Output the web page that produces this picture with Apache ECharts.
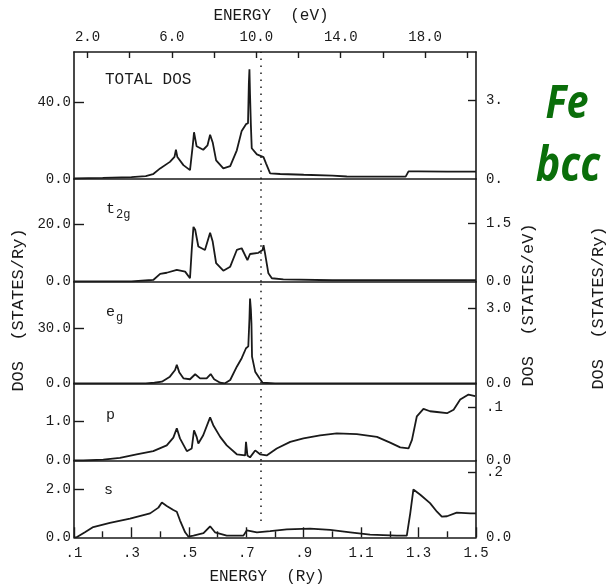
<!DOCTYPE html>
<html><head><meta charset="utf-8">
<script src="https://cdn.jsdelivr.net/npm/echarts@6/dist/echarts.min.js"></script>
<style>html,body{margin:0;padding:0;background:#fff}#c{width:607px;height:588px}</style>
</head><body><div id="c"></div>
<script>
// ---------- data (energy in Ry, DOS in states/Ry) ----------
const RY_TO_EV = 13.606;
const E_MIN = 0.1, E_MAX = 1.5;
const E_FERMI = 0.75;

const totalE = [0.10,0.20,0.30,0.35,0.375,0.40,0.434,0.450,0.455,0.460,0.481,0.504,0.510,0.514,0.518,0.527,0.550,0.565,0.574,0.583,0.595,0.620,0.644,0.667,0.684,0.699,0.706,0.709,0.711,0.713,0.716,0.719,0.723,0.737,0.760,0.769,0.783,0.818,0.90,1.00,1.05,1.20,1.255,1.265,1.30,1.40,1.50];
const totalDos = [0.3,0.6,1.0,1.5,2.5,5.5,8.9,11.5,15.2,11.4,7.2,4.6,4.2,18,24.3,17,15.2,17.5,23,19,9.7,5.5,6.7,14.9,25,28.5,29,50,57,44,28,16,15,12.8,11.4,8,2.9,2.6,2.2,1.8,1.3,1.2,1.2,4.0,4.0,3.8,3.8];

const t2gE = [0.10,0.30,0.36,0.376,0.40,0.423,0.458,0.487,0.504,0.510,0.516,0.522,0.533,0.556,0.574,0.583,0.595,0.620,0.644,0.667,0.684,0.704,0.713,0.742,0.757,0.760,0.765,0.777,0.789,0.829,1.0,1.5];
const t2gDos = [0.1,0.1,0.5,0.6,2.7,3.1,4.1,3.5,1.2,11,19,18,12.2,11,17,13.9,6.4,3.8,5.2,11,11.6,7.5,9.6,10,11,12.7,10,2.9,1.2,0.8,0.5,0.5];

const egE = [0.10,0.35,0.38,0.406,0.434,0.452,0.458,0.467,0.481,0.504,0.522,0.539,0.562,0.576,0.588,0.609,0.626,0.644,0.667,0.684,0.699,0.707,0.711,0.713,0.716,0.718,0.720,0.731,0.746,0.757,0.80,1.5];
const egDos = [0,0,0.3,0.9,3.6,7.2,10,5.8,2.7,2.2,4.9,2.7,2.7,5,2.2,0.3,0,1.8,9,13.6,19,20,35,46,40,32.6,14.5,6.3,2.7,0.3,0,0];

const pE = [0.10,0.132,0.202,0.260,0.318,0.376,0.423,0.446,0.458,0.469,0.493,0.510,0.518,0.527,0.533,0.550,0.574,0.585,0.609,0.632,0.667,0.696,0.699,0.704,0.713,0.731,0.748,0.771,0.806,0.853,0.899,0.957,1.015,1.085,1.155,1.201,1.236,1.265,1.277,1.294,1.317,1.340,1.364,1.399,1.422,1.445,1.474,1.497];
const pDos = [0,0,0.02,0.07,0.16,0.24,0.39,0.59,0.83,0.57,0.24,0.31,0.78,0.61,0.44,0.65,1.11,0.91,0.61,0.39,0.16,0.13,0.48,0.13,0.08,0.26,0.16,0.13,0.31,0.48,0.57,0.65,0.70,0.68,0.61,0.46,0.34,0.31,0.53,1.14,1.33,1.27,1.25,1.22,1.31,1.57,1.70,1.66];

const sE = [0.10,0.109,0.138,0.167,0.225,0.295,0.365,0.394,0.406,0.423,0.446,0.458,0.469,0.487,0.498,0.516,0.551,0.574,0.591,0.632,0.690,0.702,0.737,0.783,0.841,0.922,0.992,1.062,1.131,1.224,1.259,1.271,1.282,1.306,1.340,1.364,1.381,1.399,1.433,1.480,1.500];
const sDos = [0,0,0.21,0.43,0.6,0.78,1.0,1.24,1.45,1.31,1.14,1.07,0.71,0.21,0.03,0.07,0.17,0.46,0.21,0.07,0.07,0.29,0.21,0.26,0.33,0.36,0.31,0.21,0.11,0.07,0.07,1.0,2.0,1.78,1.43,1.07,0.86,0.88,1.03,1.0,1.0];

// axis ranges and tick labels
const yMaxRy = [66, 35.6, 55.1, 1.99, 3.21];
const leftTickVals = [40, 20, 30, 1, 2];
const leftTickLabels = ['40.0', '20.0', '30.0', '1.0', '2.0'];
const rightTickVals = [3, 1.5, 3, 0.1, 0.2];
const rightTickLabels = ['3.', '1.5', '3.0', '.1', '.2'];
const rightZeroLabels = ['0.', '0.0', '0.0', '0.0', '0.0'];
const fermiBottom = [0, 0, 0, 0, 0.68];
const ryMajorTicks = [0.1, 0.3, 0.5, 0.7, 0.9, 1.1, 1.3, 1.5];
const ryMinorTicks = [0.2, 0.4, 0.6, 0.8, 1.0, 1.2, 1.4];
const evTicks = [2, 4, 6, 8, 10, 12, 14, 16, 18, 20];
const evLabels = [2, 6, 10, 14, 18];

// ---------- layout ----------
const FONT = '"Liberation Mono", "DejaVu Sans Mono", monospace';
const INK = '#1a1a1a';
const gridTops = [52, 179, 281.7, 383.3, 460.5];
const gridHeights = [127, 102.7, 101.6, 77.2, 76.8];
const GL = 74, GR = 131;

const seriesE = [totalE, t2gE, egE, pE, sE];
const seriesV = [totalDos, t2gDos, egDos, pDos, sDos];

const chart = echarts.init(document.getElementById('c'), null, {renderer: 'canvas'});

const grid = [], xAxis = [], yAxis = [], series = [];
for (let i = 0; i < 5; i++) {
  grid.push({left: GL, right: GR, top: gridTops[i], height: gridHeights[i]});
  xAxis.push({
    type: 'value', gridIndex: i, position: 'bottom', min: E_MIN, max: E_MAX,
    splitLine: {show: false},
    axisLine: {show: true, onZero: false, lineStyle: {color: INK, width: 1.6}},
    axisTick: i === 4 ? {show: true, inside: true, length: 10, customValues: ryMajorTicks, lineStyle: {color: INK, width: 1.4}} : {show: false},
    axisLabel: i === 4 ? {show: true, customValues: ryMajorTicks, margin: 9, color: INK, fontFamily: FONT, fontSize: 14,
      formatter: v => v < 1 ? '.' + Math.round(v * 10) : v.toFixed(1)} : {show: false}
  });
}
// top eV axis on panel 0
xAxis.push({
  type: 'value', gridIndex: 0, position: 'top', min: E_MIN * RY_TO_EV, max: E_MAX * RY_TO_EV,
  splitLine: {show: false},
  axisLine: {show: true, onZero: false, lineStyle: {color: INK, width: 1.6}},
  axisTick: {show: true, inside: true, length: 6, customValues: evTicks, lineStyle: {color: INK, width: 1.4}},
  axisLabel: {show: true, customValues: evLabels, margin: 8, color: INK, fontFamily: FONT, fontSize: 14, formatter: v => v.toFixed(1)}
});
// minor Ry ticks on bottom panel
xAxis.push({
  type: 'value', gridIndex: 4, position: 'bottom', min: E_MIN, max: E_MAX,
  splitLine: {show: false}, axisLine: {show: false, onZero: false}, axisLabel: {show: false},
  axisTick: {show: true, inside: true, length: 6, customValues: ryMinorTicks, lineStyle: {color: INK, width: 1.4}}
});

for (let i = 0; i < 5; i++) {
  yAxis.push({
    type: 'value', gridIndex: i, position: 'left', min: 0, max: yMaxRy[i],
    splitLine: {show: false},
    axisLine: {show: true, onZero: false, lineStyle: {color: INK, width: 1.6}},
    axisTick: {show: true, inside: true, length: 10, customValues: [leftTickVals[i]], lineStyle: {color: INK, width: 1.4}},
    axisLabel: {show: true, customValues: [0, leftTickVals[i]], margin: 3, color: INK, fontFamily: FONT, fontSize: 14,
      formatter: v => v === 0 ? '0.0' : leftTickLabels[i]}
  });
}
for (let i = 0; i < 5; i++) {
  yAxis.push({
    type: 'value', gridIndex: i, position: 'right', min: 0, max: yMaxRy[i] / RY_TO_EV,
    splitLine: {show: false},
    axisLine: {show: true, onZero: false, lineStyle: {color: INK, width: 1.6}},
    axisTick: {show: true, inside: true, length: 8, customValues: [rightTickVals[i]], lineStyle: {color: INK, width: 1.4}},
    axisLabel: {show: true, customValues: [0, rightTickVals[i]], margin: 10, color: INK, fontFamily: FONT, fontSize: 14,
      padding: [0, 0, 8, 0],
      formatter: v => v === 0 ? rightZeroLabels[i] : rightTickLabels[i]}
  });
}

for (let i = 0; i < 5; i++) {
  series.push({
    type: 'line', xAxisIndex: i, yAxisIndex: i, showSymbol: false, symbol: 'none',
    data: seriesE[i].map((e, k) => [e, seriesV[i][k]]),
    lineStyle: {color: INK, width: 1.8}, silent: true, animation: false,
    markLine: {
      silent: true, symbol: ['none', 'none'], label: {show: false}, animation: false,
      lineStyle: {color: INK, width: 1.5, type: [1.5, 5.5]},
      data: [[{coord: [E_FERMI, fermiBottom[i]]}, {coord: [E_FERMI, yMaxRy[i]]}]]
    }
  });
}

function txt(x, y, text, size, opts) {
  return Object.assign({
    type: 'text', x: x, y: y, silent: true,
    style: Object.assign({text: text, fontFamily: FONT, fontSize: size, fill: INK, align: 'left', verticalAlign: 'middle'}, (opts && opts.style) || {})
  }, (opts && opts.el) || {});
}

const graphic = [
  txt(271, 16, 'ENERGY  (eV)', 16, {style: {align: 'center'}}),
  txt(267, 577, 'ENERGY  (Ry)', 16, {style: {align: 'center'}}),
  txt(18, 310, 'DOS  (STATES/Ry)', 17, {style: {align: 'center'}, el: {rotation: Math.PI / 2}}),
  txt(528, 305, 'DOS  (STATES/eV)', 17, {style: {align: 'center'}, el: {rotation: Math.PI / 2}}),
  txt(598, 308, 'DOS  (STATES/Ry)', 17, {style: {align: 'center'}, el: {rotation: Math.PI / 2}}),
  txt(105, 80, 'TOTAL DOS', 16),
  txt(106, 209, 't', 15),
  txt(116, 215, '2g', 12),
  txt(106, 312, 'e', 15),
  txt(116, 318, 'g', 12),
  txt(106, 415, 'p', 15),
  txt(104, 490, 's', 15),
  {type: 'text', x: 567, y: 105, silent: true, scaleX: 0.86,
   style: {text: 'Fe', fontFamily: '"Open Sans", "Noto Sans", sans-serif', fontWeight: 'bold', fontStyle: 'italic', fontSize: 46, fill: '#0a6e0a', align: 'center', verticalAlign: 'middle'}},
  {type: 'text', x: 568, y: 167, silent: true, scaleX: 0.86,
   style: {text: 'bcc', fontFamily: '"Open Sans", "Noto Sans", sans-serif', fontWeight: 'bold', fontStyle: 'italic', fontSize: 48, fill: '#0a6e0a', align: 'center', verticalAlign: 'middle'}}
];

chart.setOption({
  backgroundColor: '#fff', animation: false,
  grid: grid, xAxis: xAxis, yAxis: yAxis, series: series, graphic: graphic
});
</script>
</body></html>
